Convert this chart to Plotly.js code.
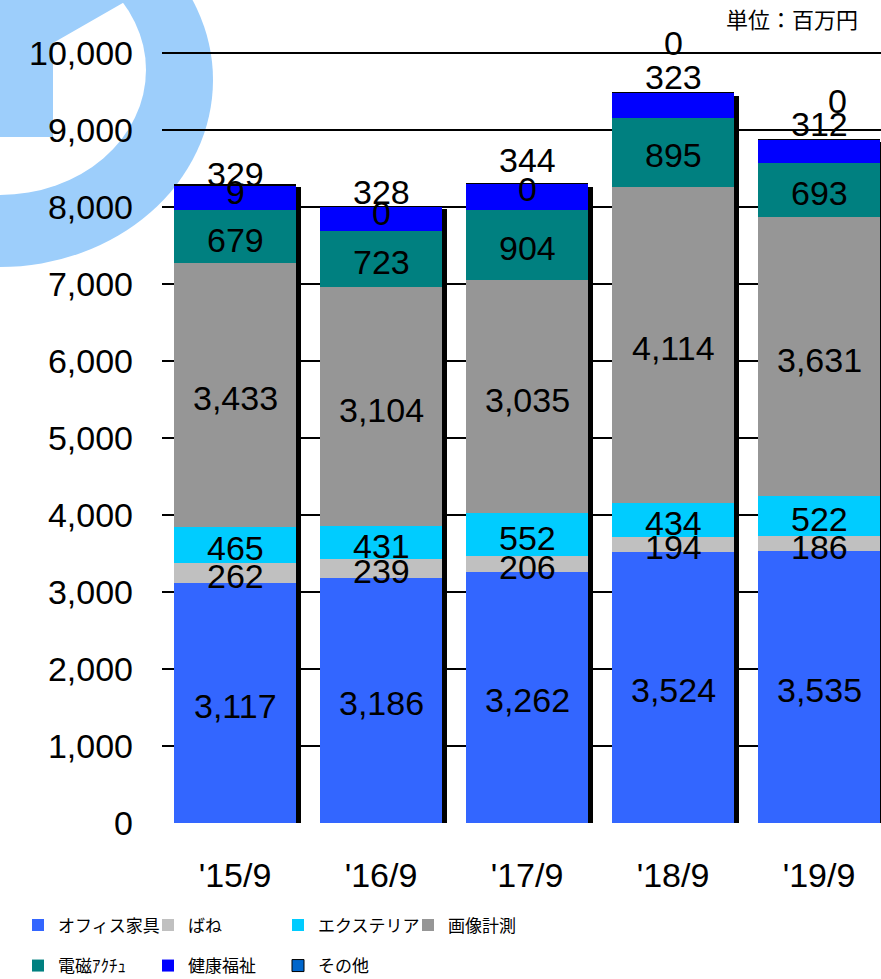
<!DOCTYPE html>
<html>
<head>
<meta charset="utf-8">
<script src="https://cdn.plot.ly/plotly-3.0.1.min.js"></script>
<style>
  html, body { margin: 0; padding: 0; background: #fff; }
  #wrap { position: relative; width: 881px; height: 979px; overflow: hidden; }
  #bg { position: absolute; left: 0; top: 0; }
  #chart { position: absolute; left: 0; top: 0; width: 881px; height: 979px; }
</style>
</head>
<body>
<div id="wrap">
  <svg id="bg" width="881" height="979">
    <ellipse cx="0" cy="80" rx="213" ry="187" fill="#9DCEFB"/>
    <ellipse cx="0" cy="70" rx="146" ry="125" fill="#ffffff"/>
    <polygon points="0,0 128,0 53,43 53,137 0,137" fill="#9DCEFB"/>
  </svg>
  <div id="chart"></div>
</div>
<script>
// ---- data ----
const categories = ["'15/9", "'16/9", "'17/9", "'18/9", "'19/9"];
const office    = [3117, 3186, 3262, 3524, 3535];
const bane      = [262, 239, 206, 194, 186];
const exterior  = [465, 431, 552, 434, 522];
const imaging   = [3433, 3104, 3035, 4114, 3631];
const actuator  = [679, 723, 904, 895, 693];
const health    = [329, 328, 344, 323, 312];
const other     = [9, 0, 0, 0, 0];
const seriesNames = ['オフィス家具', 'ばね', 'エクステリア', '画像計測', '電磁ｱｸﾁｭ', '健康福祉', 'その他'];
const yTicks = [0, 1000, 2000, 3000, 4000, 5000, 6000, 7000, 8000, 9000, 10000];
const unitLabel = '単位：百万円';

// ---- styling ----
const series = [office, bane, exterior, imaging, actuator, health, other];
const colors = ['#3366FF', '#C0C0C0', '#00CCFF', '#969696', '#008080', '#0000FF', '#0066CC'];
const legendOf = ['legend', 'legend', 'legend', 'legend', 'legend2', 'legend2', 'legend2'];
// label pixel shifts for the two top series (manually placed labels in the original)
const healthShiftY = [10, 14, 24, 16, 15];
const otherShiftY = [-8, -7, -5, 50, 38];
const otherShiftX = [0, 0, 0, 0, 18];

const pxPer1000 = 77;
const plotTop = 7, plotBottom = 156, plotH = 979 - plotTop - plotBottom;
const yMax = plotH / pxPer1000 * 1000;
const bandPx = 146;
const xMax = -0.5 + 719 / bandPx;
const shadowDx = 5 / bandPx;              // in category units
const shadowDy = 3 / pxPer1000 * 1000;    // in data units

const totals = categories.map((c, j) => series.reduce((s, arr) => s + arr[j], 0));

const traces = [];
// shadow (base subplot, drawn beneath)
traces.push({
  type: 'bar', x: categories, y: totals, xaxis: 'x', yaxis: 'y',
  marker: { color: '#000000' }, showlegend: false, hoverinfo: 'skip', cliponaxis: false
});
series.forEach((arr, i) => {
  traces.push({
    type: 'bar', name: seriesNames[i], x: categories, y: arr,
    xaxis: 'x2', yaxis: 'y2', legend: legendOf[i],
    marker: { color: colors[i], line: { width: i === 6 ? 1 : 0, color: '#000' } }
  });
});

// data labels
const fmt = v => v.toLocaleString('en-US');
const annotations = [];
const labelFont = { family: 'Liberation Sans, Arial, sans-serif', size: 34, color: '#000' };
categories.forEach((c, j) => {
  let cum = 0;
  for (let i = 0; i < 5; i++) {
    const v = series[i][j];
    annotations.push({
      xref: 'x2', yref: 'y2', x: c, y: cum + v / 2, text: fmt(v), showarrow: false,
      font: labelFont, yanchor: 'middle', yshift: -3
    });
    cum += v;
  }
  const top = totals[j];
  annotations.push({
    xref: 'x2', yref: 'y2', x: c, y: top, text: fmt(health[j]), showarrow: false,
    font: labelFont, yanchor: 'middle', yshift: healthShiftY[j]
  });
  annotations.push({
    xref: 'x2', yref: 'y2', x: c, y: top, text: fmt(other[j]), showarrow: false,
    font: labelFont, yanchor: 'middle', yshift: otherShiftY[j], xshift: otherShiftX[j]
  });
});
annotations.push({
  xref: 'paper', yref: 'paper', x: (860 - 162) / 719, y: (979 - plotBottom - 18) / plotH,
  xanchor: 'right', yanchor: 'middle', text: unitLabel, showarrow: false,
  font: { family: 'Noto Sans CJK JP, sans-serif', size: 22, color: '#000' }
});

const legendFont = { family: 'Noto Sans CJK JP, sans-serif', size: 17, color: '#000' };
const legendX = (18 - 162) / 719;
const layout = {
  width: 881, height: 979,
  margin: { l: 162, r: 0, t: plotTop, b: plotBottom, pad: 0, autoexpand: false },
  paper_bgcolor: 'rgba(0,0,0,0)', plot_bgcolor: 'rgba(0,0,0,0)',
  barmode: 'stack', bargap: 0.171,
  showlegend: true,
  xaxis: { type: 'category', range: [-0.5 - shadowDx, xMax - shadowDx], visible: false, fixedrange: true },
  yaxis: { range: [shadowDy, yMax + shadowDy], visible: false, fixedrange: true },
  xaxis2: {
    type: 'category', overlaying: 'x', side: 'bottom', range: [-0.5, xMax],
    showgrid: false, zeroline: false, showline: false, ticks: '',
    tickfont: { family: 'Liberation Sans, Arial, sans-serif', size: 34, color: '#000' },
    ticklabelstandoff: 29, automargin: false
  },
  yaxis2: {
    overlaying: 'y', side: 'left', range: [0, yMax],
    tickvals: yTicks, tickformat: ',d', showgrid: true, gridcolor: '#000', gridwidth: 1.2,
    zeroline: false, showline: false, ticks: '',
    tickfont: { family: 'Liberation Sans, Arial, sans-serif', size: 34, color: '#000' },
    ticklabelstandoff: 28, automargin: false
  },
  legend: {
    orientation: 'h', x: legendX, xanchor: 'left', y: (823 - 925.5) / plotH, yanchor: 'middle',
    entrywidth: 85, font: legendFont, bgcolor: 'rgba(0,0,0,0)', traceorder: 'normal'
  },
  legend2: {
    orientation: 'h', x: legendX, xanchor: 'left', y: (823 - 966) / plotH, yanchor: 'middle',
    entrywidth: 85, font: legendFont, bgcolor: 'rgba(0,0,0,0)', traceorder: 'normal'
  },
  annotations: annotations
};

Plotly.newPlot('chart', traces, layout, { staticPlot: true, displayModeBar: false });
</script>
</body>
</html>
